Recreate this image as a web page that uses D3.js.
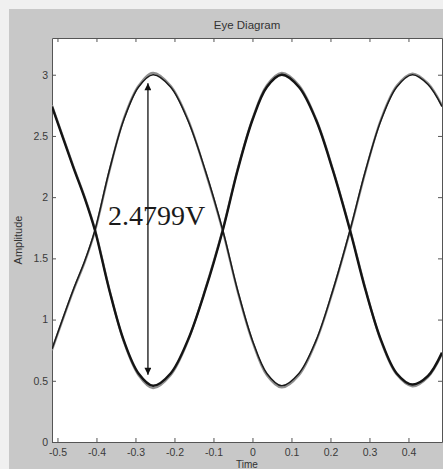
<!DOCTYPE html>
<html>
<head>
<meta charset="utf-8">
<script src="https://cdn.jsdelivr.net/npm/d3@7"></script>
<style>
  html, body { margin: 0; padding: 0; background: #ffffff; }
  svg { display: block; }
  .tick text { font-family: "Liberation Sans", Arial, sans-serif; font-size: 10.5px; fill: #3a3a3a; }
  .tick line, .domain { stroke: #555; }
</style>
</head>
<body>
<div id="chart"></div>
<script>
'use strict';

// sample times (s)
const timeS = [-0.514, -0.46, -0.43, -0.404, -0.367, -0.330, -0.292, -0.255, -0.210, -0.166, -0.121, -0.076,
               -0.038, 0.000, 0.037, 0.075, 0.119, 0.163, 0.206, 0.250, 0.290, 0.330, 0.370, 0.410, 0.450, 0.486];

// trace starting low at the left edge
const traceA = [0.76, 1.24, 1.48, 1.73, 2.22, 2.63, 2.90, 3.00, 2.90, 2.63, 2.22, 1.73,
                1.24, 0.83, 0.56, 0.46, 0.56, 0.83, 1.24, 1.73, 2.22, 2.63, 2.90, 3.00, 2.92, 2.74];
// noisy companion of traceA
const traceA2 = [0.75, 1.23, 1.47, 1.72, 2.21, 2.64, 2.91, 3.015, 2.91, 2.64, 2.21, 1.72,
                 1.23, 0.82, 0.545, 0.445, 0.545, 0.82, 1.23, 1.72, 2.21, 2.64, 2.91, 3.01, 2.93, 2.75];
// trace starting high at the left edge
const traceB = [2.74, 2.25, 1.99, 1.73, 1.24, 0.83, 0.56, 0.46, 0.56, 0.83, 1.24, 1.73,
                2.22, 2.63, 2.90, 3.00, 2.90, 2.63, 2.22, 1.73, 1.24, 0.83, 0.56, 0.47, 0.54, 0.73];
const traceB2 = [2.75, 2.26, 2.00, 1.74, 1.25, 0.82, 0.545, 0.44, 0.545, 0.82, 1.25, 1.74,
                 2.23, 2.64, 2.915, 3.015, 2.915, 2.64, 2.23, 1.74, 1.25, 0.82, 0.55, 0.455, 0.53, 0.72];

const xTicks = [-0.5, -0.4, -0.3, -0.2, -0.1, 0, 0.1, 0.2, 0.3, 0.4];
const yTicks = [0, 0.5, 1, 1.5, 2, 2.5, 3];

// eye opening measurement
const eyeTime = -0.268;
const eyeTop = 2.93;
const eyeBottom = 0.55;
const eyeLabel = "2.4799V";

const W = 443, H = 469;
const plot = { left: 52, right: 442, top: 38, bottom: 442 };

const svg = d3.select("#chart").append("svg")
    .attr("width", W)
    .attr("height", H);

// figure background
svg.append("rect").attr("width", W).attr("height", H).attr("fill", "#f0f0f0");
svg.append("rect").attr("x", 9).attr("y", 9).attr("width", W - 9).attr("height", H - 9).attr("fill", "#c8c8c8");

const x = d3.scaleLinear().domain([-0.514, 0.486]).range([plot.left, plot.right]);
const y = d3.scaleLinear().domain([0, 3.3]).range([plot.bottom, plot.top]);

svg.append("rect")
    .attr("x", plot.left).attr("y", plot.top)
    .attr("width", plot.right - plot.left)
    .attr("height", plot.bottom - plot.top)
    .attr("fill", "#ffffff");

const fmt = d => String(d);

svg.append("g")
    .attr("transform", `translate(0,${plot.bottom})`)
    .call(d3.axisBottom(x).tickValues(xTicks).tickFormat(fmt).tickSize(-4).tickSizeOuter(0).tickPadding(7));
svg.append("g")
    .attr("transform", `translate(0,${plot.top})`)
    .call(d3.axisTop(x).tickValues(xTicks).tickFormat("").tickSize(-4).tickSizeOuter(0));
svg.append("g")
    .attr("transform", `translate(${plot.left},0)`)
    .call(d3.axisLeft(y).tickValues(yTicks).tickFormat(fmt).tickSize(-4).tickSizeOuter(0).tickPadding(4));
svg.append("g")
    .attr("transform", `translate(${plot.right},0)`)
    .call(d3.axisRight(y).tickValues(yTicks).tickFormat("").tickSize(-4).tickSizeOuter(0));

// traces
svg.append("clipPath").attr("id", "clip")
    .append("rect")
    .attr("x", plot.left).attr("y", plot.top)
    .attr("width", plot.right - plot.left)
    .attr("height", plot.bottom - plot.top);

const line = d3.line()
    .x((d, i) => x(timeS[i]))
    .y(d => y(d))
    .curve(d3.curveCatmullRom.alpha(0.5));

const traces = svg.append("g").attr("clip-path", "url(#clip)");
const traceList = [
    { data: traceA2, color: "#909090", width: 2.2 },
    { data: traceB2, color: "#909090", width: 2.2 },
    { data: traceA, color: "#1a1a1a", width: 1.5 },
    { data: traceB, color: "#141414", width: 2.4 }
];
traces.selectAll("path")
    .data(traceList)
    .enter()
    .append("path")
    .attr("d", d => line(d.data))
    .attr("fill", "none")
    .attr("stroke", d => d.color)
    .attr("stroke-width", d => d.width)
    .attr("stroke-linejoin", "round");

// double arrow
const defs = svg.append("defs");
defs.append("marker")
    .attr("id", "head")
    .attr("viewBox", "0 0 10 10")
    .attr("refX", 10).attr("refY", 5)
    .attr("markerWidth", 9).attr("markerHeight", 7)
    .attr("markerUnits", "userSpaceOnUse")
    .attr("orient", "auto-start-reverse")
    .append("path")
    .attr("d", "M0,0 L10,5 L0,10 Z")
    .attr("fill", "#111");

svg.append("line")
    .attr("x1", x(eyeTime)).attr("x2", x(eyeTime))
    .attr("y1", y(eyeTop)).attr("y2", y(eyeBottom))
    .attr("stroke", "#111")
    .attr("stroke-width", 1.3)
    .attr("marker-start", "url(#head)")
    .attr("marker-end", "url(#head)");

svg.append("text")
    .attr("x", 108).attr("y", 225)
    .attr("font-family", "'Liberation Serif', 'Times New Roman', serif")
    .attr("font-size", 28)
    .attr("fill", "#1a1a1a")
    .text(eyeLabel);

// titles
svg.append("text")
    .attr("x", (plot.left + plot.right) / 2).attr("y", 29)
    .attr("text-anchor", "middle")
    .attr("font-family", "'Liberation Sans', Arial, sans-serif")
    .attr("font-size", 11.5)
    .attr("fill", "#333")
    .text("Eye Diagram");

svg.append("text")
    .attr("transform", `translate(22,${(plot.top + plot.bottom) / 2}) rotate(-90)`)
    .attr("text-anchor", "middle")
    .attr("font-family", "'Liberation Sans', Arial, sans-serif")
    .attr("font-size", 11)
    .attr("fill", "#333")
    .text("Amplitude");

svg.append("text")
    .attr("x", (plot.left + plot.right) / 2).attr("y", 468)
    .attr("text-anchor", "middle")
    .attr("font-family", "'Liberation Sans', Arial, sans-serif")
    .attr("font-size", 10)
    .attr("fill", "#333")
    .text("Time");
</script>
</body>
</html>
